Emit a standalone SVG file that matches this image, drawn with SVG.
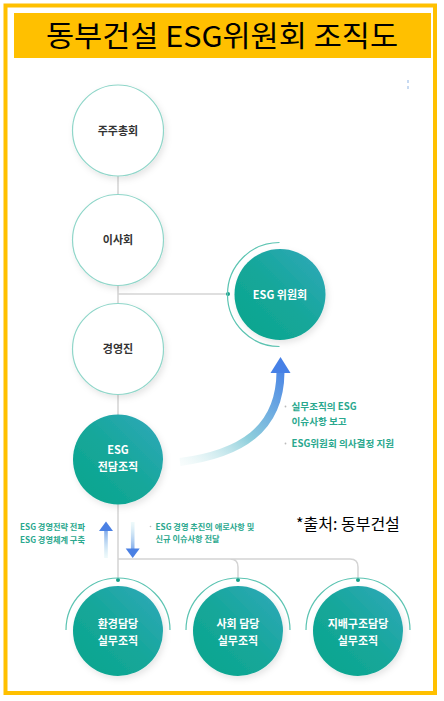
<svg xmlns="http://www.w3.org/2000/svg" width="444" height="701" viewBox="0 0 444 701">
<defs>
<linearGradient id="teal" x1="0" y1="1" x2="1" y2="0">
<stop offset="0" stop-color="#0aa58c"/>
<stop offset="0.5" stop-color="#15a79a"/>
<stop offset="1" stop-color="#33a8bc"/>
</linearGradient>
<linearGradient id="bigArrow" gradientUnits="userSpaceOnUse" x1="180" y1="462" x2="282" y2="360">
<stop offset="0" stop-color="#d8f0f0" stop-opacity="0.2"/>
<stop offset="0.45" stop-color="#8fcfdc"/>
<stop offset="1" stop-color="#4680e6"/>
</linearGradient>
<linearGradient id="upArrow" gradientUnits="userSpaceOnUse" x1="0" y1="558" x2="0" y2="522">
<stop offset="0" stop-color="#c9eef0" stop-opacity="0.3"/>
<stop offset="1" stop-color="#4a80e4"/>
</linearGradient>
<linearGradient id="downArrow" gradientUnits="userSpaceOnUse" x1="0" y1="522" x2="0" y2="558">
<stop offset="0" stop-color="#c9eef0" stop-opacity="0.3"/>
<stop offset="1" stop-color="#4a80e4"/>
</linearGradient>
<filter id="sh" x="-30%" y="-30%" width="160%" height="160%">
<feDropShadow dx="2" dy="3" stdDeviation="3" flood-color="#000" flood-opacity="0.10"/>
</filter>
</defs>
<style>
.wc{fill:#fff;stroke:#8fd6c9;stroke-width:1.2}
.tc{fill:url(#teal)}
.ring{fill:none;stroke:#5cc4b2;stroke-width:1.2}
.dot{fill:#17a08a}
.line{fill:none;stroke:#d4d4d4;stroke-width:1.5}
.dk{font-family:"Noto Sans CJK KR","Noto Sans",sans-serif;font-size:11px;font-weight:bold;fill:#333;text-anchor:middle}
.wt{font-family:"Noto Sans CJK KR","Noto Sans",sans-serif;font-size:11px;font-weight:bold;fill:#fff;text-anchor:middle}
.lb{font-family:"Noto Sans CJK KR","Noto Sans",sans-serif;font-size:9.6px;font-weight:bold;fill:#2aa88e}
.sm{font-family:"Noto Sans CJK KR","Noto Sans",sans-serif;font-size:8.2px;font-weight:bold;fill:#2aa88e}
</style>
<rect x="0" y="0" width="444" height="701" fill="#fff"/>
<rect x="5.5" y="5.5" width="429.5" height="687.5" fill="none" stroke="#FFC000" stroke-width="4"/>
<g id="title">
<rect x="14" y="13" width="417" height="45" fill="#FFC000"/>
<text x="222" y="47" font-family="'Noto Sans CJK KR','Noto Sans',sans-serif" font-size="29" fill="#000" text-anchor="middle" textLength="352" lengthAdjust="spacingAndGlyphs">동부건설 ESG위원회 조직도</text>
</g>
<g id="connectors">
<path class="line" d="M118 176 V195 M118 285 V304 M118 394 V415"/>
<path class="line" d="M118 294 H228" stroke="#dedede"/>
<path class="line" d="M118 504 V580 M118 559 H230 Q238 559 238 567 V580 M230 559 H350 Q358 559 358 567 V580"/>
<circle class="dot" cx="228" cy="294" r="2"/>
<circle class="dot" cx="118" cy="580" r="2"/>
<circle class="dot" cx="238" cy="580" r="2"/>
<circle class="dot" cx="358" cy="580" r="2"/>
<path d="M180 462 C240 454 280 430 280.5 372" fill="none" stroke="url(#bigArrow)" stroke-width="8"/>
<polygon points="280.5,357 290.5,373 270.5,373" fill="#4680e6"/>
<rect x="104.2" y="530" width="3.6" height="28" fill="url(#upArrow)"/>
<polygon points="106,521.5 113,531 99,531" fill="#4a80e4"/>
<rect x="130.9" y="522" width="3.6" height="27" fill="url(#downArrow)"/>
<polygon points="132.7,558 125.7,548.5 139.7,548.5" fill="#4a80e4"/>
</g>
<g id="n1"><circle class="wc" cx="118" cy="130.5" r="45.5" filter="url(#sh)"/><text class="dk" x="118" y="134.5">주주총회</text></g>
<g id="n2"><circle class="wc" cx="118" cy="240" r="45.5" filter="url(#sh)"/><text class="dk" x="118" y="244">이사회</text></g>
<g id="n3"><circle class="wc" cx="118" cy="349" r="45.5" filter="url(#sh)"/><text class="dk" x="118" y="353">경영진</text></g>
<g id="n4"><circle class="tc" cx="118" cy="459.5" r="45" filter="url(#sh)"/><text class="wt" x="118" y="454">ESG</text><text class="wt" x="118" y="471">전담조직</text></g>
<g id="n5"><path class="ring" d="M279.5 242.5 A52 52 0 0 0 279.5 346.5"/><circle class="tc" cx="280" cy="294.5" r="45.5" filter="url(#sh)"/><text class="wt" x="280" y="298.5">ESG 위원회</text></g>
<g id="n6"><path class="ring" d="M66 630 A52 52 0 0 1 170 630"/><circle class="tc" cx="118" cy="631" r="45" filter="url(#sh)"/><text class="wt" x="118" y="628">환경담당</text><text class="wt" x="118" y="645">실무조직</text></g>
<g id="n7"><path class="ring" d="M186 630 A52 52 0 0 1 290 630"/><circle class="tc" cx="238" cy="631" r="45" filter="url(#sh)"/><text class="wt" x="238" y="628">사회 담당</text><text class="wt" x="238" y="645">실무조직</text></g>
<g id="n8"><path class="ring" d="M306 630 A52 52 0 0 1 410 630"/><circle class="tc" cx="358" cy="631" r="45" filter="url(#sh)"/><text class="wt" x="358" y="628">지배구조담당</text><text class="wt" x="358" y="645">실무조직</text></g>
<g id="labels">
<circle cx="285.5" cy="406.5" r="0.9" fill="#bbb"/>
<text class="lb" x="291.5" y="410">실무조직의 ESG</text>
<text class="lb" x="291.5" y="425">이슈사항 보고</text>
<circle cx="285.5" cy="443.5" r="0.9" fill="#bbb"/>
<text class="lb" x="291.5" y="447">ESG위원회 의사결정 지원</text>
<text class="sm" x="20" y="530">ESG 경영전략 전파</text>
<text class="sm" x="20" y="543">ESG 경영체계 구축</text>
<circle cx="150.5" cy="526.5" r="0.8" fill="#bbb"/>
<text class="sm" x="155.5" y="530">ESG 경영 추진의 애로사항 및</text>
<text class="sm" x="155.5" y="542">신규 이슈사항 전달</text>
<text x="296" y="530" font-family="'Noto Sans CJK KR','Noto Sans',sans-serif" font-size="16" fill="#000">*출처: 동부건설</text>
</g>
<rect x="407" y="80" width="2" height="3" fill="#8fb5e6" opacity="0.5"/>
<rect x="407" y="86" width="2" height="3" fill="#8fb5e6" opacity="0.5"/>
</svg>
